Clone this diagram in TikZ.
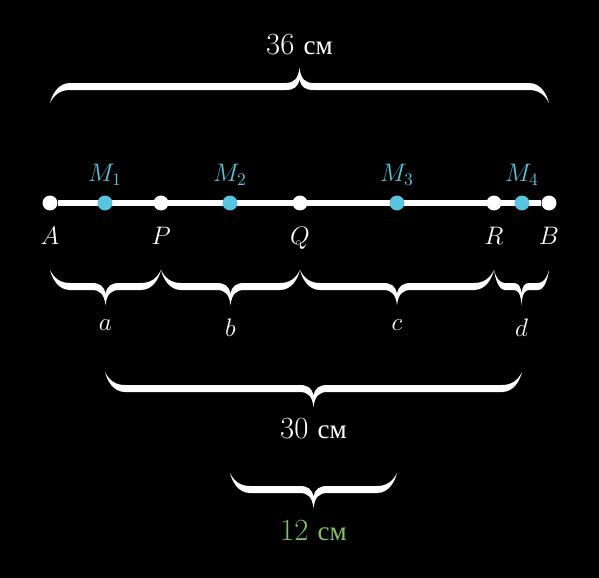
\documentclass[tikz,border=0pt]{standalone}
\usepackage{fontspec}
\newfontfamily\cyrfont[Scale=0.88]{Liberation Serif}
\usetikzlibrary{positioning}

\definecolor{mblue}{HTML}{58C4DD}
\definecolor{mgreen}{HTML}{83C167}

% filled brace: left x, right x, tip y, direction (1 = cusp down, -1 = cusp up)
\newcommand{\mbrace}[4]{%
    \pgfmathsetmacro\bw{min((#2-#1)/2,50)}
    \pgfmathsetmacro\be{0.4*\bw}
    \pgfmathsetmacro\bc{0.28*\bw}
    \pgfmathsetmacro\bm{(#1+#2)/2}
    \begin{scope}[shift={(0,#3)}, yscale=#4]
        \fill[white] (#1,0) .. controls (#1+0.1*\be,8) and (#1+0.4*\be,20) .. (#1+\be,20)
            -- (\bm-\bc,20) .. controls (\bm-0.4*\bc,20) and (\bm-0.1*\bc,24) .. (\bm,35)
            .. controls (\bm+0.1*\bc,24) and (\bm+0.4*\bc,20) .. (\bm+\bc,20)
            -- (#2-\be,20) .. controls (#2-0.4*\be,20) and (#2-0.1*\be,8) .. (#2,0)
            .. controls (#2-0.2*\be,8) and (#2-0.5*\be,13) .. (#2-\be,13)
            -- (\bm+\bc,13) .. controls (\bm+0.4*\bc,13) and (\bm+0.1*\bc,16) .. (\bm,24)
            .. controls (\bm-0.1*\bc,16) and (\bm-0.4*\bc,13) .. (\bm-\bc,13)
            -- (#1+\be,13) .. controls (#1+0.5*\be,13) and (#1+0.2*\be,8) .. (#1,0) -- cycle;
    \end{scope}
}

\tikzset{
    dot/.style={circle, fill=white, inner sep=0pt, minimum size=8.5pt},
    middot/.style={dot, fill=mblue},
    lbl/.style={text=white, inner sep=0pt, font=\fontsize{14.5}{16}\selectfont},
    len/.style={text=white, inner sep=0pt, anchor=base, font=\fontsize{17.5}{20}\selectfont},
}

\begin{document}
\begin{tikzpicture}[x=0.02cm, y=-0.02cm]
    % background
    \fill[black] (0,0) rectangle (599,578);
    \useasboundingbox (0,0) rectangle (599,578);

    % segment AB
    \node[dot] (A) at (50,203) {};
    \node[dot] (B) at (549,203) {};
    \draw[white, line width=3pt] (A) -- (B);

    % points on the segment
    \node[dot] (P) at (161,203) {};
    \node[dot] (Q) at (300,203) {};
    \node[dot] (R) at (494,203) {};
    \node[middot] (M1) at (105,203) {};
    \node[middot] (M2) at (230,203) {};
    \node[middot] (M3) at (397,203) {};
    \node[middot] (M4) at (522,203) {};

    \node[lbl, anchor=north] at (50,227) {$A$};
    \node[lbl, anchor=north] at (161,227) {$P$};
    \node[lbl, anchor=north] at (300,227) {$Q$};
    \node[lbl, anchor=north] at (494,227) {$R$};
    \node[lbl, anchor=north] at (549,227) {$B$};
    \node[lbl, anchor=south, text=mblue] at (105,186) {$M_1$};
    \node[lbl, anchor=south, text=mblue] at (230,186) {$M_2$};
    \node[lbl, anchor=south, text=mblue] at (397,186) {$M_3$};
    \node[lbl, anchor=south, text=mblue] at (522,186) {$M_4$};

    % whole length
    \mbrace{50}{549}{103}{-1}
    \node[len] at (299.5,54) {36 {\cyrfont см}};

    % parts a, b, c, d
    \mbrace{50}{161}{270}{1}
    \mbrace{161}{300}{270}{1}
    \mbrace{300}{494}{270}{1}
    \mbrace{494}{549}{270}{1}
    \node[lbl, anchor=north] at (105.5,319) {$a$};
    \node[lbl, anchor=north] at (230.5,319) {$b$};
    \node[lbl, anchor=north] at (397,319) {$c$};
    \node[lbl, anchor=north] at (521.5,319) {$d$};

    % M1 to M4
    \mbrace{105}{522}{372}{1}
    \node[len] at (313.5,438) {30 {\cyrfont см}};

    % M2 to M3
    \mbrace{230}{397}{473}{1}
    \node[len, text=mgreen] at (313.5,540) {12 {\cyrfont см}};
\end{tikzpicture}
\end{document}
